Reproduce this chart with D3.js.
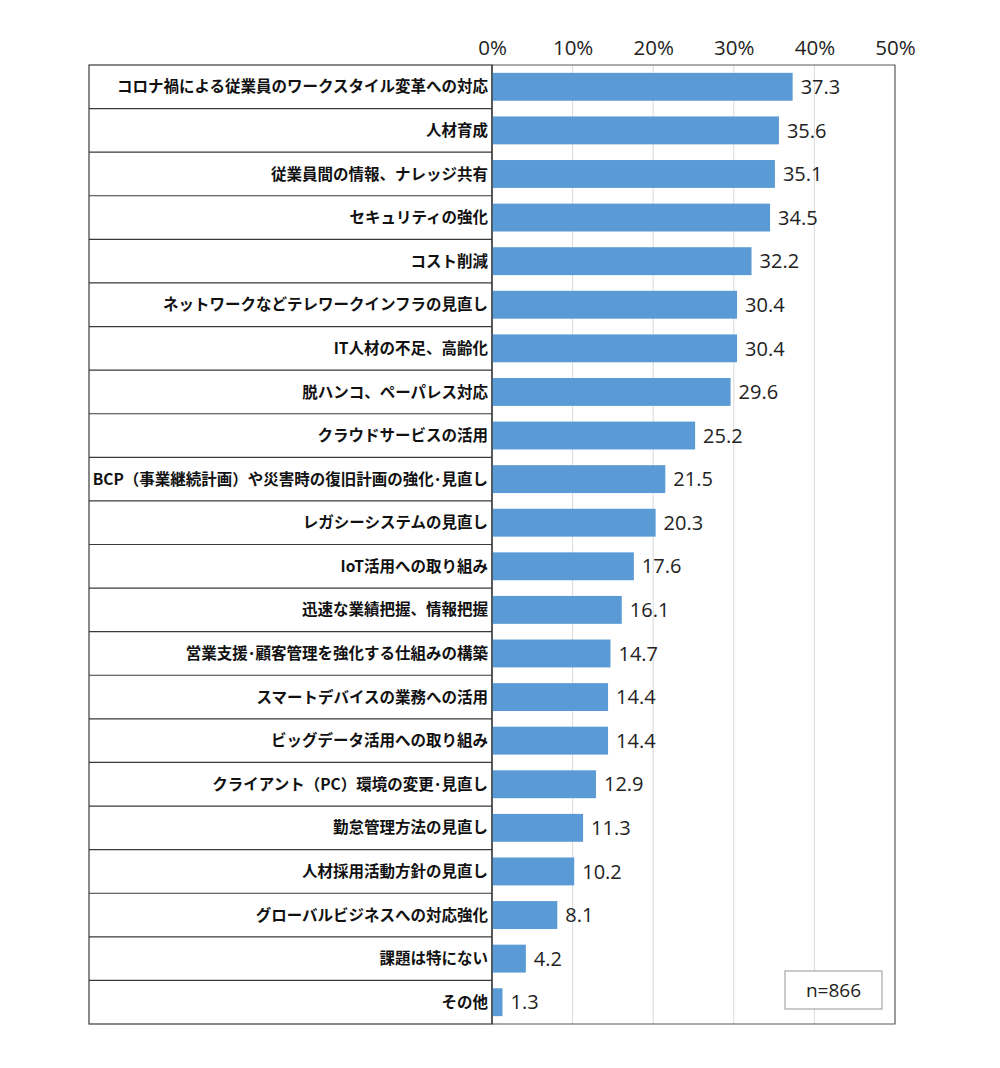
<!DOCTYPE html>
<html>
<head>
<meta charset="utf-8">
<script src="https://cdn.jsdelivr.net/npm/d3@7"></script>
<style>
  body { margin: 0; background: #fff; }
  svg { display: block; }
</style>
</head>
<body>
<script>
// data
const categories = [
    "コロナ禍による従業員のワークスタイル変革への対応",
    "人材育成",
    "従業員間の情報、ナレッジ共有",
    "セキュリティの強化",
    "コスト削減",
    "ネットワークなどテレワークインフラの見直し",
    "IT人材の不足、高齢化",
    "脱ハンコ、ペーパレス対応",
    "クラウドサービスの活用",
    "BCP（事業継続計画）や災害時の復旧計画の強化･見直し",
    "レガシーシステムの見直し",
    "IoT活用への取り組み",
    "迅速な業績把握、情報把握",
    "営業支援･顧客管理を強化する仕組みの構築",
    "スマートデバイスの業務への活用",
    "ビッグデータ活用への取り組み",
    "クライアント（PC）環境の変更･見直し",
    "勤怠管理方法の見直し",
    "人材採用活動方針の見直し",
    "グローバルビジネスへの対応強化",
    "課題は特にない",
    "その他"
];
const values = [37.3, 35.6, 35.1, 34.5, 32.2, 30.4, 30.4, 29.6, 25.2, 21.5, 20.3,
    17.6, 16.1, 14.7, 14.4, 14.4, 12.9, 11.3, 10.2, 8.1, 4.2, 1.3];
const tickValues = [0, 10, 20, 30, 40, 50];
const sampleNote = "n=866";

const dataset = categories.map((c, i) => ({ name: c, value: values[i] }));

// dimensions
const width = 1000;
const height = 1068;
const frameLeft = 89;
const plotLeft = 492;
const plotRight = 895;
const plotTop = 65;
const plotBottom = 1024;

// SCALE
const x = d3.scaleLinear().domain([0, 50]).range([plotLeft, plotRight]);
const y = d3.scaleBand().domain(categories).range([plotTop, plotBottom])
    .paddingInner(0.36).paddingOuter(0.18);
const rowStep = (plotBottom - plotTop) / categories.length;

const svg = d3.select("body").append("svg")
    .attr("width", width)
    .attr("height", height);

// gridlines
svg.append("g")
    .selectAll("line")
    .data(tickValues.slice(1, -1))
    .enter()
    .append("line")
    .attr("x1", d => x(d)).attr("x2", d => x(d))
    .attr("y1", plotTop).attr("y2", plotBottom)
    .attr("stroke", "#d9d9d9")
    .attr("stroke-width", 1);

// x axis on top (labels only)
const xAxis = d3.axisTop(x).tickValues(tickValues).tickFormat(d => d + "%").tickSize(0).tickPadding(0);
const gx = svg.append("g")
    .attr("transform", `translate(0,${plotTop - 10})`)
    .call(xAxis);
gx.select(".domain").remove();
gx.selectAll("text")
    .attr("font-family", "'Open Sans', 'Noto Sans CJK JP', sans-serif")
    .attr("font-size", 20.5)
    .attr("fill", "#222");

// label column row separators
svg.append("g")
    .selectAll("line")
    .data(d3.range(1, categories.length))
    .enter()
    .append("line")
    .attr("x1", frameLeft).attr("x2", plotLeft)
    .attr("y1", i => plotTop + i * rowStep).attr("y2", i => plotTop + i * rowStep)
    .attr("stroke", "#3a3a3a")
    .attr("stroke-width", 1.2);

// frame
svg.append("rect")
    .attr("x", frameLeft).attr("y", plotTop)
    .attr("width", plotLeft - frameLeft).attr("height", plotBottom - plotTop)
    .attr("fill", "none").attr("stroke", "#3a3a3a").attr("stroke-width", 1.2);
svg.append("path")
    .attr("d", `M${plotLeft},${plotTop}H${plotRight}V${plotBottom}H${plotLeft}`)
    .attr("fill", "none").attr("stroke", "#595959").attr("stroke-width", 1.2);

// category labels
svg.append("g")
    .selectAll("text")
    .data(dataset)
    .enter()
    .append("text")
    .attr("x", plotLeft - 4)
    .attr("y", d => y(d.name) + y.bandwidth() / 2)
    .attr("dy", "0.36em")
    .attr("text-anchor", "end")
    .attr("font-family", "'Noto Sans CJK JP', sans-serif")
    .attr("font-weight", "bold")
    .attr("font-size", 15.5)
    .attr("fill", "#111")
    .text(d => d.name);

// bars
svg.append("g")
    .selectAll("rect")
    .data(dataset)
    .enter()
    .append("rect")
    .attr("x", x(0))
    .attr("y", d => y(d.name))
    .attr("width", d => x(d.value) - x(0))
    .attr("height", y.bandwidth())
    .attr("fill", "#5b9bd5");

// left axis line over bars
svg.append("line")
    .attr("x1", plotLeft).attr("x2", plotLeft)
    .attr("y1", plotTop).attr("y2", plotBottom)
    .attr("stroke", "#3a3a3a").attr("stroke-width", 1.2);

// value labels
svg.append("g")
    .selectAll("text")
    .data(dataset)
    .enter()
    .append("text")
    .attr("x", d => x(d.value) + 8)
    .attr("y", d => y(d.name) + y.bandwidth() / 2)
    .attr("dy", "0.36em")
    .attr("font-family", "'Open Sans', 'Noto Sans CJK JP', sans-serif")
    .attr("font-size", 20)
    .attr("fill", "#222")
    .text(d => d.value.toFixed(1));

// n= note
const note = svg.append("g").attr("transform", "translate(785,971)");
note.append("rect")
    .attr("width", 97).attr("height", 38)
    .attr("fill", "#fff").attr("stroke", "#a6a6a6").attr("stroke-width", 1.2);
note.append("text")
    .attr("x", 48.5).attr("y", 19).attr("dy", "0.36em")
    .attr("text-anchor", "middle")
    .attr("font-family", "'Open Sans', sans-serif")
    .attr("font-size", 19)
    .attr("fill", "#222")
    .text(sampleNote);
</script>
</body>
</html>
